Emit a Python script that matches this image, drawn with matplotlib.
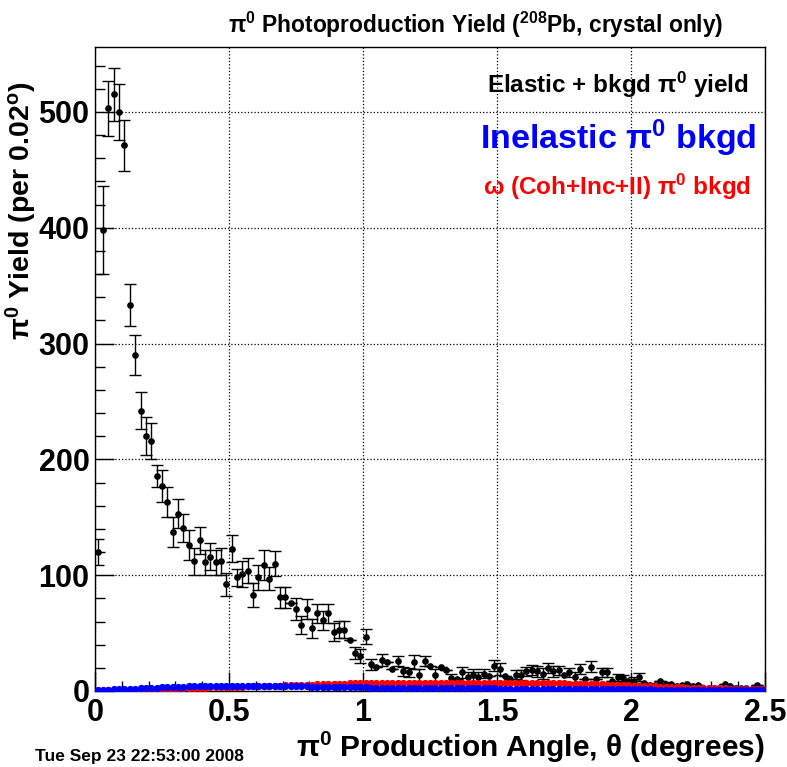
import numpy as np
import matplotlib
matplotlib.use('Agg')
from matplotlib import pyplot as plt

plt.rcParams['font.family'] = ['Liberation Sans', 'DejaVu Sans']
plt.rcParams['font.weight'] = 'bold'
plt.rcParams['mathtext.fontset'] = 'custom'
plt.rcParams['mathtext.rm'] = 'Liberation Sans:bold'
plt.rcParams['mathtext.it'] = 'Liberation Sans:bold'
plt.rcParams['mathtext.bf'] = 'Liberation Sans:bold'

# histogram binning: 125 bins of 0.02 deg from 0 to 2.5
bin_width = 0.02
n_bins = 125

# elastic + bkgd pi0 yield (black points)
elastic = [120, 398, 503, 515, 500, 471, 333, 290, 242, 220,
           216, 186, 177, 163, 137, 153, 141, 126, 112, 130,
           111, 116, 111, 112, 92, 123, 98, 101, 104, 83,
           98, 109, 97, 110, 81, 81, 76, 71, 57, 71,
           54, 67, 61, 67, 51, 53, 53, 44, 33, 30,
           47, 23, 21, 27, 25, 19, 26, 17, 16, 25,
           14, 26, 22, 14, 21, 18, 11, 10, 16, 12,
           14, 12, 15, 13, 22, 19, 13, 10, 14, 14,
           17, 18, 17, 15, 20, 17, 18, 14, 16, 12,
           19, 10, 21, 10, 16, 16, 9, 12, 11, 9,
           9, 12, 7, 5, 5, 9, 6, 6, 4, 5,
           6, 4, 5, 3, 3, 3, 3, 6, 4, 3,
           3, 3, 2, 5, 2]
elastic_err = [11, 38, 23.5, 23, 24, 22, 18, 17.5, 16, 16.5,
               15.5, 9.5, 13.5, 13, 13, 12.5, 12, 13, 11.5, 11.5,
               11, 11.5, 10.5, 11.5, 10, 11.5, 7.5, 11, 10.5, 10.5,
               10.5, 13, 10, 10.5, 9, 9, 0, 9.5, 8, 8.5,
               8, 8, 8.5, 8, 7.5, 7.5, 7.5, 0, 5, 6,
               6.5, 5, 0, 5, 0, 0, 4.5, 4, 4, 6,
               5, 4, 0, 5, 0, 0, 4, 0, 5, 4,
               5, 4, 4, 0, 5, 5, 0, 0, 4, 4.5,
               4, 4.5, 5, 4.5, 4.5, 4.5, 4, 0, 4, 4,
               4, 0, 5, 0, 4, 4, 0, 3, 3, 0,
               3, 3.5, 0, 0, 0, 0, 0, 0, 0, 0,
               0, 0, 0, 0, 0, 0, 0, 0, 0, 0,
               0, 0, 0, 0, 0]

# inelastic pi0 bkgd (blue points)
inelastic = [0.9, 1.1, 1.2, 1.4, 1.5, 1.7, 1.9, 2.1, 2.3, 2.6,
             2.9, 3.0, 3.2, 3.4, 3.5, 3.7, 3.8, 3.9, 4.0, 4.2,
             4.3, 4.4, 4.4, 4.5, 4.6, 4.6, 4.6, 4.7, 4.6, 4.6,
             4.5, 4.5, 4.4, 4.4, 4.3, 4.2, 4.2, 4.0, 4.0, 3.9,
             3.8, 3.7, 3.6, 3.6, 3.5, 3.4, 3.3, 3.3, 3.2, 3.2,
             3.1, 3.0, 3.0, 2.9, 2.9, 2.8, 2.8, 2.7, 2.7, 2.7,
             2.6, 2.6, 2.6, 2.5, 2.5, 2.5, 2.4, 2.4, 2.4, 2.3,
             2.3, 2.3, 2.2, 2.2, 2.2, 2.1, 2.1, 2.0, 2.0, 2.0,
             1.9, 1.9, 1.9, 1.8, 1.8, 1.8, 1.7, 1.7, 1.7, 1.6,
             1.6, 1.6, 1.5, 1.5, 1.5, 1.5, 1.4, 1.4, 1.4, 1.4,
             1.3, 1.3, 1.3, 1.3, 1.2, 1.2, 1.2, 1.2, 1.2, 1.1,
             1.1, 1.1, 1.1, 1.1, 1.0, 1.0, 1.0, 1.0, 1.0, 1.0,
             0.9, 0.9, 0.9, 0.9, 0.9]

# omega (Coh+Inc+II) pi0 bkgd (red points)
omega = [0.3, 0.4, 0.5, 0.6, 0.7, 0.8, 0.9, 1.0, 1.2, 1.3,
         1.5, 1.6, 1.7, 1.9, 2.0, 2.2, 2.3, 2.5, 2.6, 2.8,
         3.0, 3.1, 3.2, 3.3, 3.4, 3.5, 3.6, 3.7, 3.9, 4.0,
         4.2, 4.3, 4.4, 4.5, 4.7, 4.8, 4.9, 5.1, 5.2, 5.4,
         5.5, 5.7, 5.8, 5.9, 6.1, 6.2, 6.3, 6.5, 6.6, 6.7,
         6.8, 6.9, 7.0, 7.0, 7.1, 7.1, 7.2, 7.1, 7.2, 7.2,
         7.1, 7.2, 7.2, 7.1, 7.2, 7.1, 7.2, 7.1, 7.1, 7.2,
         7.1, 7.0, 7.1, 7.1, 7.0, 7.0, 7.0, 6.9, 7.0, 6.9,
         6.9, 6.8, 6.8, 6.7, 6.7, 6.6, 6.5, 6.5, 6.4, 6.3,
         6.2, 6.1, 6.0, 5.8, 5.7, 5.5, 5.4, 5.2, 5.0, 4.9,
         4.7, 4.5, 4.3, 4.1, 3.9, 3.7, 3.5, 3.4, 3.2, 3.1,
         3.0, 2.8, 2.7, 2.6, 2.5, 2.4, 2.3, 2.2, 2.1, 2.0,
         2.0, 1.9, 1.9, 1.8, 1.8]

theta = bin_width * (np.arange(n_bins) + 0.5)

fig = plt.figure(figsize=(7.87, 7.67), dpi=100)
ax = fig.add_axes([95/787, 76/767, 670/787, 644/767])

ax.errorbar(theta, elastic, yerr=elastic_err, fmt='o', color='k', ms=3.8,
            elinewidth=1.0, capsize=4.3, capthick=1.0, zorder=3)
ax.plot(theta, omega, 'o', color='#ff0000', ms=4.2, zorder=4)
ax.plot(theta, inelastic, 'o', color='#0000ff', ms=4.2, zorder=5)

ax.set_xlim(0, 2.5)
ax.set_ylim(0, 556)
ax.set_xticks([0, 0.5, 1, 1.5, 2, 2.5])
ax.set_xticklabels(['0', '0.5', '1', '1.5', '2', '2.5'])
ax.set_xticks(np.arange(0, 2.51, 0.1), minor=True)
ax.set_yticks([0, 100, 200, 300, 400, 500])
ax.set_yticks(np.arange(0, 556, 20), minor=True)
ax.tick_params(which='both', direction='in', top=False, right=False, labelsize=22)
ax.tick_params(which='major', length=14, width=1)
ax.tick_params(which='minor', length=7, width=1)
ax.tick_params(axis='y', pad=4)
ax.tick_params(axis='x', pad=5)
for lab in ax.get_xticklabels() + ax.get_yticklabels():
    lab.set_fontweight('bold')
ax.grid(True, which='major', ls=':', color='k', lw=0.9)
for s in ax.spines.values():
    s.set_linewidth(1.0)

ax.set_xlabel('π$^{0}$ Production Angle, θ (degrees)', fontsize=21.5, fontweight='bold', loc='right')
ax.xaxis.set_label_coords(1.0, -0.06)
ax.set_ylabel('π$^{0}$ Yield (per 0.02$^{o}$)', fontsize=20.5, fontweight='bold', loc='top')
ax.yaxis.set_label_coords(-0.084, 0.946)

fig.text(0.604, 0.967, 'π$^{0}$ Photoproduction Yield ($^{208}$Pb, crystal only)',
         ha='center', va='center', fontsize=16.4, fontweight='bold')

ax.text(0.975, 0.941, 'Elastic + bkgd π$^{0}$ yield', transform=ax.transAxes,
        ha='right', va='center', fontsize=17.5, fontweight='bold', color='k')
ax.text(0.987, 0.859, 'Inelastic π$^{0}$ bkgd', transform=ax.transAxes,
        ha='right', va='center', fontsize=24.5, fontweight='bold', color='#0000ff')
ax.text(0.979, 0.783, 'ω (Coh+Inc+II) π$^{0}$ bkgd', transform=ax.transAxes,
        ha='right', va='center', fontsize=17.5, fontweight='bold', color='#ff0000')

fig.text(35/787, 1 - 757/767, 'Tue Sep 23 22:53:00 2008', ha='left', va='center',
         fontsize=12.5, fontweight='bold')

plt.savefig('out.png', dpi=100)
plt.close('all')
